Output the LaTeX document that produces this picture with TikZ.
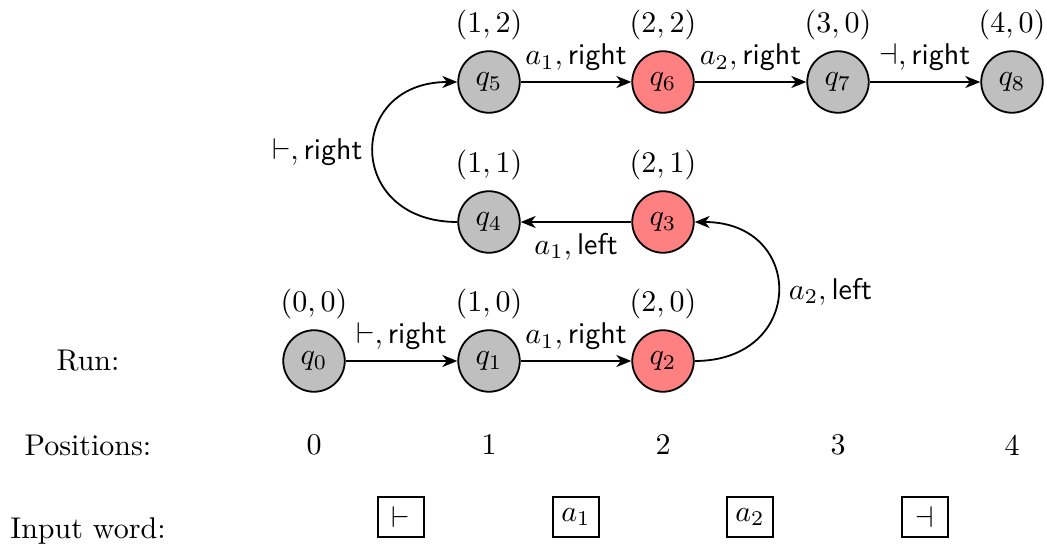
\documentclass[tikz,border=0pt]{standalone}
\usetikzlibrary{arrows.meta}
\begin{document}
\begin{tikzpicture}[x=0.3333pt,y=-0.3333pt,
  st/.style={circle,draw,semithick,minimum size=20.5pt,inner sep=0pt},
  gs/.style={st,fill=black!25},
  rs/.style={st,fill=red!50},
  tr/.style={-{Stealth[length=5pt,width=4pt,inset=1.5pt]},semithick},
  wbox/.style={draw,semithick,minimum width=15.5pt,minimum height=13.5pt,inner sep=0pt}]
\useasboundingbox (0,0) rectangle (1047,546);
% states
\node[gs,label={above:$(0,0)$}] (q0) at (314,361) {$q_0$};
\node[gs,label={above:$(1,0)$}] (q1) at (489,361) {$q_1$};
\node[rs,label={above:$(2,0)$}] (q2) at (663,361) {$q_2$};
\node[rs,label={above:$(2,1)$}] (q3) at (663,222) {$q_3$};
\node[gs,label={above:$(1,1)$}] (q4) at (489,222) {$q_4$};
\node[gs,label={above:$(1,2)$}] (q5) at (489,82) {$q_5$};
\node[rs,label={above:$(2,2)$}] (q6) at (663,82) {$q_6$};
\node[gs,label={above:$(3,0)$}] (q7) at (838,82) {$q_7$};
\node[gs,label={above:$(4,0)$}] (q8) at (1012,82) {$q_8$};
% transitions
\draw[tr] (q0) -- node[above] {$\vdash, \textsf{right}$} (q1);
\draw[tr] (q1) -- node[above] {$a_1, \textsf{right}$} (q2);
\draw[tr] (q2.east) to[out=0,in=0,looseness=2.05] node[right] {$a_2, \textsf{left}$} (q3.east);
\draw[tr] (q3) -- node[below] {$a_1, \textsf{left}$} (q4);
\draw[tr] (q4.west) to[out=180,in=180,looseness=2.05] node[left] {$\vdash, \textsf{right}$} (q5.west);
\draw[tr] (q5) -- node[above] {$a_1, \textsf{right}$} (q6);
\draw[tr] (q6) -- node[above] {$a_2, \textsf{right}$} (q7);
\draw[tr] (q7) -- node[above] {$\dashv, \textsf{right}$} (q8);
% row labels
\node (run) at (88,361) {Run:};
\node (pos) at (88,445) {Positions:};
\node (inp) at (88,531) {Input word:};
% positions
\node (p0) at (314,445) {0};
\node (p1) at (489,445) {1};
\node (p2) at (663,445) {2};
\node (p3) at (838,445) {3};
\node (p4) at (1012,445) {4};
% input word
\node[wbox] (w0) at (401,517) {$\vdash$};
\node[wbox] (w1) at (576,517) {$a_1$};
\node[wbox] (w2) at (750,517) {$a_2$};
\node[wbox] (w3) at (925,517) {$\dashv$};
\end{tikzpicture}
\end{document}
